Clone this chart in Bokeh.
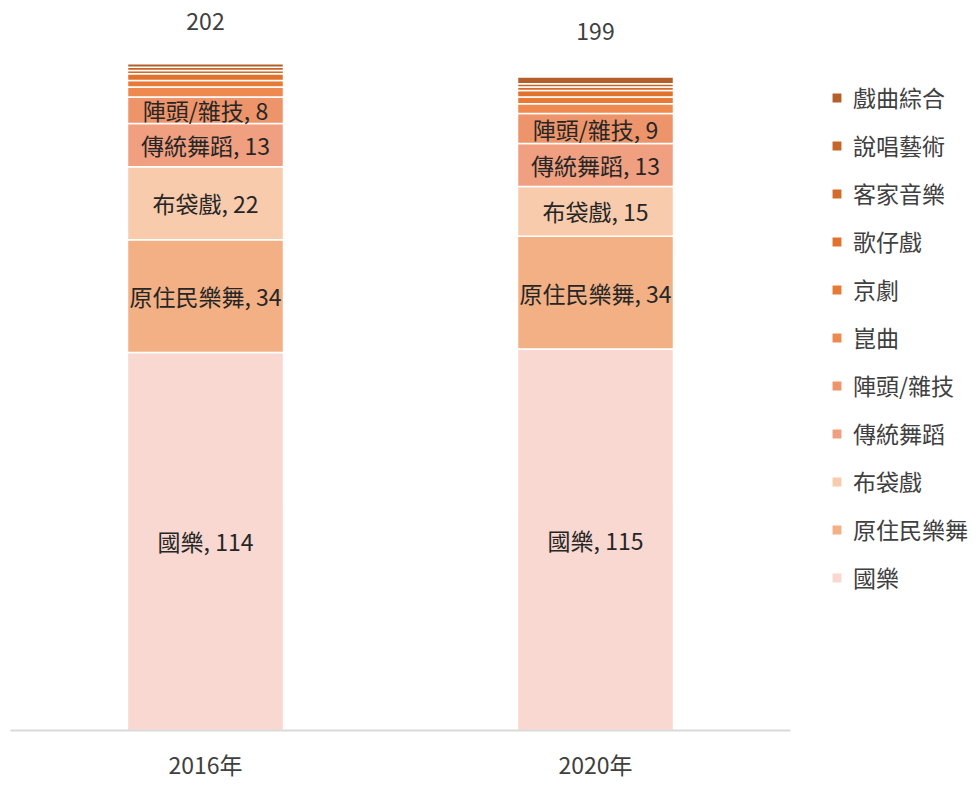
from bokeh.plotting import figure
from bokeh.models import ColumnDataSource, FactorRange, Legend, LegendItem, Range1d
from bokeh.embed import file_html
from bokeh.resources import INLINE
from bokeh.core.properties import value

years = ["2016年", "2020年"]
categories = ["國樂", "原住民樂舞", "布袋戲", "傳統舞蹈", "陣頭/雜技",
              "崑曲", "京劇", "歌仔戲", "客家音樂", "說唱藝術", "戲曲綜合"]

guoyue = [114, 115]
yuanzhumin = [34, 34]
budaixi = [22, 15]
chuantong_wudao = [13, 13]
zhentou = [8, 9]
kunqu = [3, 3]
jingju = [2, 2]
gezaixi = [2, 2]
kejia = [1, 1]
shuochang = [1, 1]
xiqu_zonghe = [1, 2]
totals = [202, 199]

series = [guoyue, yuanzhumin, budaixi, chuantong_wudao, zhentou,
          kunqu, jingju, gezaixi, kejia, shuochang, xiqu_zonghe]
labeled = ["國樂", "原住民樂舞", "布袋戲", "傳統舞蹈", "陣頭/雜技"]

colors = ["#F8D8D0", "#F2B084", "#F8CBAD", "#F0A080", "#EE946A",
          "#EE8A50", "#E77A36", "#E0722E", "#D36B2B", "#C4652A", "#B45F2A"]

FONT = "Noto Sans CJK TC"
TXT = "#404040"
FS = "23px"

data = {"years": years}
for c, s in zip(categories, series):
    data[c] = s
src = ColumnDataSource(data)

p = figure(x_range=FactorRange(factors=years), y_range=Range1d(0, 220.1),
           frame_width=780, frame_height=730, width=976, height=785,
           output_backend="svg", toolbar_location=None,
           y_axis_location=None, min_border_left=10, min_border_top=0,
           min_border_bottom=55, min_border_right=0, outline_line_color=None)
p.xgrid.visible = False
p.ygrid.visible = False

rs = p.vbar_stack(categories, x="years", width=0.4, source=src, color=colors,
                  line_color="white", line_width=1.5)

# segment labels
lx, ly, lt = [], [], []
for i, yr in enumerate(years):
    bottom = 0
    for c, s in zip(categories, series):
        v = s[i]
        if c in labeled:
            lx.append(yr)
            ly.append(bottom + v / 2)
            lt.append(f"{c}, {v}")
        bottom += v
p.text(x=lx, y=ly, text=lt, text_align="center", text_baseline="middle",
       text_font=value(FONT), text_font_size=FS, text_color="#262626")

# totals
p.text(x=years, y=totals, text=[str(t) for t in totals], text_align="center",
       text_baseline="middle", y_offset=-39,
       text_font=value(FONT), text_font_size=FS, text_color=TXT)

ax = p.xaxis[0]
ax.axis_line_color = "#D9D9D9"
ax.axis_line_width = 2
ax.major_tick_line_color = None
ax.minor_tick_line_color = None
ax.major_label_standoff = 10
ax.major_label_text_font = FONT
ax.major_label_text_font_size = FS
ax.major_label_text_color = TXT

items = [LegendItem(label=c, renderers=[r]) for c, r in zip(categories, rs)][::-1]
legend = Legend(items=items, location=(40, 136), orientation="vertical",
                border_line_color=None, background_fill_alpha=0,
                label_text_font=FONT, label_text_font_size=FS,
                label_text_color=TXT, glyph_width=13, glyph_height=13,
                label_standoff=10, spacing=14, padding=0, margin=0,
                label_height=24)
p.add_layout(legend, "right")

open("out.html", "w").write(file_html(p, INLINE))
